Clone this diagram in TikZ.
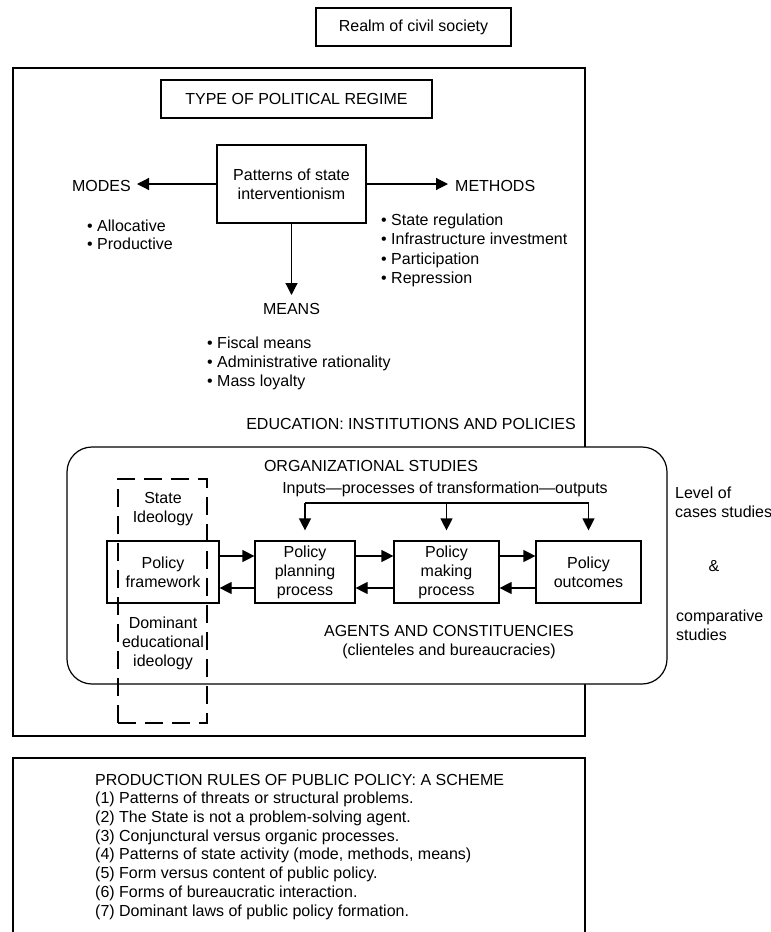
\documentclass[tikz,border=0pt]{standalone}
\usepackage{fontspec}
\setmainfont{Liberation Sans}
\usetikzlibrary{arrows.meta}
\begin{document}
\begin{tikzpicture}[x=1pt,y=-1pt,
  every node/.style={font=\fontsize{16}{19}\selectfont},
  box/.style={draw, line width=1.2pt, inner sep=0pt, align=center},
  txt/.style={inner sep=0pt, align=center},
  arr/.style={line width=1.2pt, -{Triangle[length=12pt,width=12pt]}},
  ln/.style={line width=1.2pt},
  item/.style={inner sep=0pt, anchor=base west},
  dashbox/.style={draw, line width=1.2pt, dash pattern=on 18pt off 9pt, inner sep=0pt}]
\useasboundingbox (0,0) rectangle (771,932);

% top
\node[box, minimum width=195pt, minimum height=38pt] (realm) at (413.5,27) {Realm of civil society};

% big box
\node[box, minimum width=572pt, minimum height=668pt] (regime) at (299,402) {};
\node[box, minimum width=271pt, minimum height=38pt] (type) at (296.5,99) {TYPE OF POLITICAL REGIME};

% patterns
\node[box, minimum width=149pt, minimum height=78pt] (pat) at (291.5,184) {Patterns of state\\interventionism};
\node[txt, anchor=east] (modes) at (131,185.5) {MODES};
\node[txt, anchor=west] (methods) at (455,185.5) {METHODS};
\node[txt, anchor=north] (means) at (291.5,303) {MEANS};
\draw[arr] (pat.west) -- ([xshift=6pt]pat.west -| modes.east);
\draw[arr] (pat.east) -- ([xshift=-7pt]pat.east -| methods.west);
\draw[arr] (pat.south) -- ([yshift=8pt]means.north);

\node[item] (m1) at (87,231) {• Allocative};
\node[item] (m2) at (87,249) {• Productive};

\node[item] (t1) at (381,225) {• State regulation};
\node[item] (t2) at (381,244) {• Infrastructure investment};
\node[item] (t3) at (381,264) {• Participation};
\node[item] (t4) at (381,283) {• Repression};

\node[item] (n1) at (207,348) {• Fiscal means};
\node[item] (n2) at (207,367) {• Administrative rationality};
\node[item] (n3) at (207,386) {• Mass loyalty};

\node[txt, anchor=base east] (edu) at (576,429) {EDUCATION: INSTITUTIONS AND POLICIES};

% organizational studies
\node[box, fill=white, rounded corners=25pt, minimum width=600pt, minimum height=237pt] (org) at (367,565.5) {};
\node[txt] (orgt) at (371,466) {ORGANIZATIONAL STUDIES};
\node[txt] (inputs) at (445,489) {Inputs—processes of transformation—outputs};

\node[box, minimum width=112pt, minimum height=62pt] (frame) at (163,572) {Policy\\framework};
\node[box, minimum width=100pt, minimum height=62pt] (plan) at (305,572) {Policy\\planning\\process};
\node[box, minimum width=105pt, minimum height=62pt] (make) at (446.5,572) {Policy\\making\\process};
\node[box, minimum width=105pt, minimum height=62pt] (out) at (588.5,572) {Policy\\outcomes};

\draw[arr] ([yshift=16pt]frame.east) -- ([yshift=16pt]plan.west);
\draw[arr] ([yshift=16pt]plan.east) -- ([yshift=16pt]make.west);
\draw[arr] ([yshift=16pt]make.east) -- ([yshift=16pt]out.west);
\draw[arr] ([yshift=-16pt]out.west) -- ([yshift=-16pt]make.east);
\draw[arr] ([yshift=-16pt]make.west) -- ([yshift=-16pt]plan.east);
\draw[arr] ([yshift=-16pt]plan.west) -- ([yshift=-16pt]frame.east);

\coordinate (fb) at (0,503);
\draw[ln] (plan.north |- fb) -- (out.north |- fb);
\draw[arr] (plan.north |- fb) -- ([yshift=10pt]plan.north);
\draw[arr] (make.north |- fb) -- ([yshift=10pt]make.north);
\draw[arr] (out.north |- fb) -- ([yshift=10pt]out.north);

\node[txt] (agents) at (449,642.5) {AGENTS AND CONSTITUENCIES\\(clienteles and bureaucracies)};

% dashed ideology box
\node[dashbox, minimum width=89pt, minimum height=244pt] (ideo) at (162.5,601) {};
\node[txt] (state) at (163,509.5) {State\\Ideology};
\node[txt] (dom) at (163,643) {Dominant\\educational\\ideology};

% right labels
\node[txt, anchor=west, align=left] (level) at (675,502.5) {Level of\\cases studies};
\node[txt] (amp) at (714,566) {\&};
\node[txt, anchor=west, align=left] (comp) at (676,625) {comparative\\studies};

% production rules
\node[box, minimum width=572pt, minimum height=220pt] (prod) at (299,868) {};
\node[item] (p0) at (95,785) {PRODUCTION RULES OF PUBLIC POLICY: A SCHEME};
\node[item] (p1) at (95,803.7) {(1) Patterns of threats or structural problems.};
\node[item] (p2) at (95,822.4) {(2) The State is not a problem-solving agent.};
\node[item] (p3) at (95,841) {(3) Conjunctural versus organic processes.};
\node[item] (p4) at (95,859.8) {(4) Patterns of state activity (mode, methods, means)};
\node[item] (p5) at (95,878.5) {(5) Form versus content of public policy.};
\node[item] (p6) at (95,897.2) {(6) Forms of bureaucratic interaction.};
\node[item] (p7) at (95,916) {(7) Dominant laws of public policy formation.};
\end{tikzpicture}
\end{document}
